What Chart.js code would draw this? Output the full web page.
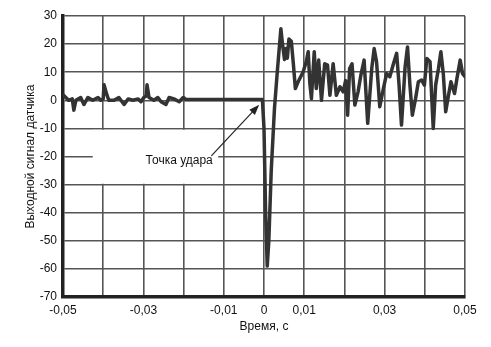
<!DOCTYPE html>
<html lang="ru">
<head>
<meta charset="utf-8">
<title>Выходной сигнал датчика</title>
<script src="https://cdn.jsdelivr.net/npm/chart.js@4.4.1/dist/chart.umd.min.js"></script>
<style>
    html, body { margin: 0; padding: 0; background: #fff; }
    #wrap { width: 491px; height: 347px; }
</style>
</head>
<body>
<div id="wrap"><canvas id="sensorChart" width="491" height="347"></canvas></div>
<script>
// time, s
const timeValues = [
    -0.0500, -0.0486, -0.0477, -0.0473, -0.0468, -0.0456, -0.0448, -0.0438, -0.0426, -0.0413,
    -0.0406, -0.0400, -0.0398, -0.0391, -0.0386, -0.0373, -0.0361, -0.0348, -0.0338, -0.0326,
    -0.0313, -0.0306, -0.0299, -0.0293, -0.0291, -0.0286, -0.0274, -0.0264, -0.0256, -0.0244,
    -0.0236, -0.0224, -0.0211, -0.0201, -0.0194, -0.0100, -0.0004,
    0.0000, 0.0004, 0.0008, 0.0012, 0.0018, 0.0026, 0.0033, 0.0042, 0.0046, 0.0051,
    0.0055, 0.0058, 0.0062, 0.0068, 0.0073, 0.0078, 0.0085, 0.0097, 0.0105, 0.0110,
    0.0114, 0.0118, 0.0125, 0.0130, 0.0136, 0.0143, 0.0151, 0.0158, 0.0164, 0.0172, 0.0180,
    0.0189, 0.0197, 0.0203, 0.0208, 0.0213, 0.0219, 0.0226, 0.0234, 0.0241, 0.0249, 0.0258,
    0.0268, 0.0274, 0.0280, 0.0288, 0.0297, 0.0305, 0.0313, 0.0322, 0.0330, 0.0336,
    0.0342, 0.0351, 0.0357, 0.0363, 0.0369, 0.0377, 0.0384, 0.0392, 0.0399, 0.0405,
    0.0413, 0.0421, 0.0427, 0.0434, 0.0440, 0.0446, 0.0452, 0.0459, 0.0465, 0.0474,
    0.0480, 0.0488, 0.0494, 0.0500
];

// sensor output
const signalValues = [
    2, 0, 0.5, -3.5, 0, 1, -1.5, 1, 0, 1,
    0, 0.5, 5.5, 2, 0, 0, 1, -1.5, 0.5, 0,
    0.5, -0.5, 1, 1.5, 5.5, 1, 0, 1, -0.5, -1.5,
    1, 0.5, -0.5, 1, 0.3, 0.3, 0.3,
    -10, -40, -59, -50, -25, -3, 10, 25.5, 20, 14.5,
    18.4, 15, 21.8, 21, 13, 4.2, 6.6, 10, 13.7, 17.3,
    6, 0.6, 17.3, 4.2, 14.3, 0, 13, 12.5, 1.8, 13, 1.8,
    4.8, 3, 7, -5.3, 11.3, 13, -1.7, 3, 9, 14.3, -8.2,
    11.3, 18.4, 13.7, -2.3, 4.2, 9.5, 8.4, 13, 16.7, 5.4,
    -8.8, 11.9, 19, 5.4, -5.3, 0.6, 6.6, 7.2, 5.4, 14.9,
    13.7, -10, 5.4, 11.3, 17.3, 9.5, -4.1, 1.8, 6.6, 2.4,
    7.8, 14.3, 9.5, 8.4
];

const xLabelledTicks = [-0.05, -0.03, -0.01, 0, 0.01, 0.03, 0.05];
const yRange = [-70, 30];
const xRange = [-0.05, 0.05];

const calloutText = 'Точка удара';
const calloutAt = [-0.0211, -21.5];
const arrowFrom = [-0.0131, -19.8];
const arrowTo = [-0.0012, -1.6];

const FONT = "'Liberation Sans', Arial, sans-serif";

/* ---------- callout: blank patch, label and arrow ---------- */
const calloutPlugin = {
    id: 'callout',
    beforeDatasetsDraw(chart) {
        const { ctx, scales: { x, y } } = chart;
        const x0 = x.getPixelForValue(-0.0426);
        const x1 = x.getPixelForValue(-0.0114);
        const y0 = y.getPixelForValue(-10.5);
        const y1 = y.getPixelForValue(-29.7);
        ctx.save();
        ctx.fillStyle = '#fff';
        ctx.fillRect(x0, y0, x1 - x0, y1 - y0);
        ctx.restore();
    },
    afterDatasetsDraw(chart) {
        const { ctx, scales: { x, y } } = chart;
        ctx.save();
        ctx.fillStyle = '#111';
        ctx.font = '12px ' + FONT;
        ctx.textAlign = 'center';
        ctx.textBaseline = 'middle';
        ctx.fillText(calloutText, x.getPixelForValue(calloutAt[0]), y.getPixelForValue(calloutAt[1]));

        const ax = x.getPixelForValue(arrowFrom[0]);
        const ay = y.getPixelForValue(arrowFrom[1]);
        const bx = x.getPixelForValue(arrowTo[0]);
        const by = y.getPixelForValue(arrowTo[1]);
        const ang = Math.atan2(by - ay, bx - ax);
        ctx.strokeStyle = '#222';
        ctx.lineWidth = 1.2;
        ctx.beginPath();
        ctx.moveTo(ax, ay);
        ctx.lineTo(bx - Math.cos(ang) * 6, by - Math.sin(ang) * 6);
        ctx.stroke();
        ctx.fillStyle = '#222';
        ctx.beginPath();
        ctx.moveTo(bx, by);
        ctx.lineTo(bx - Math.cos(ang - 0.35) * 11, by - Math.sin(ang - 0.35) * 11);
        ctx.lineTo(bx - Math.cos(ang + 0.35) * 11, by - Math.sin(ang + 0.35) * 11);
        ctx.closePath();
        ctx.fill();
        ctx.restore();
    }
};

const fmt = (v) => String(v).replace('.', ',');

new Chart(document.getElementById('sensorChart'), {
    type: 'line',
    data: {
        datasets: [{
            data: timeValues.map((t, i) => ({ x: t, y: signalValues[i] })),
            borderColor: '#333',
            borderWidth: 3.5,
            borderJoinStyle: 'round',
            borderCapStyle: 'round',
            pointRadius: 0,
            tension: 0,
            fill: false
        }]
    },
    options: {
        responsive: false,
        animation: false,
        layout: { padding: { top: 16, right: 26, bottom: 0, left: 0 } },
        plugins: { legend: { display: false }, tooltip: { enabled: false } },
        scales: {
            x: {
                type: 'linear',
                min: xRange[0],
                max: xRange[1],
                afterFit: (scale) => { scale.height = 50; },
                ticks: {
                    stepSize: 0.01,
                    autoSkip: false,
                    maxRotation: 0,
                    padding: 6,
                    color: '#111',
                    font: { family: FONT, size: 12 },
                    callback: (v) => {
                        const r = Math.round(v * 100) / 100;
                        return xLabelledTicks.includes(r) ? fmt(r) : '';
                    }
                },
                grid: { color: '#555', lineWidth: 1.6, drawTicks: false },
                border: { color: '#222', width: 3.5 },
                title: {
                    display: true,
                    text: 'Время, с',
                    color: '#111',
                    font: { family: FONT, size: 12 },
                    padding: { top: 0, bottom: 13 }
                }
            },
            y: {
                min: yRange[0],
                max: yRange[1],
                afterFit: (scale) => { scale.width = 63; },
                ticks: {
                    stepSize: 10,
                    padding: 6,
                    color: '#111',
                    font: { family: FONT, size: 12 },
                    callback: (v) => String(v)
                },
                grid: { color: '#555', lineWidth: 1.6, drawTicks: false },
                border: { color: '#222', width: 3.5 },
                title: {
                    display: true,
                    text: 'Выходной сигнал датчика',
                    color: '#111',
                    font: { family: FONT, size: 12 },
                    padding: { top: 23, bottom: 0 }
                }
            }
        }
    },
    plugins: [calloutPlugin]
});
</script>
</body>
</html>
